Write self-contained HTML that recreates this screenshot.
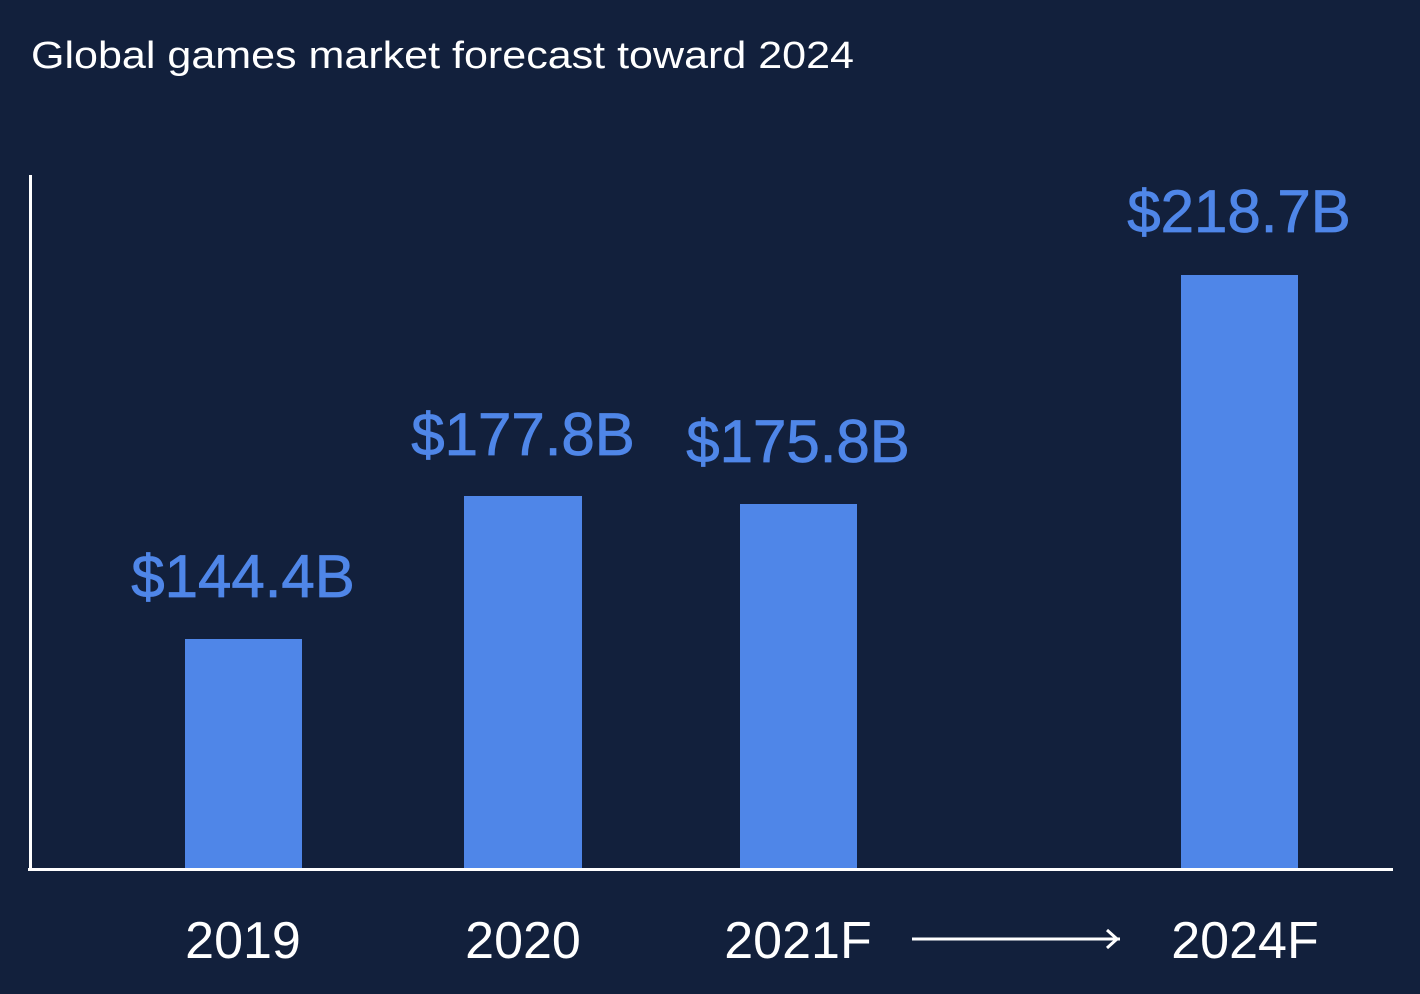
<!DOCTYPE html>
<html><head><style>
html,body{margin:0;padding:0;background:#12203c;}
svg{display:block;}
text{font-family:"Liberation Sans",sans-serif;}
</style></head><body>
<svg width="1420" height="994" viewBox="0 0 1420 994">
<rect width="1420" height="994" fill="#12203c"/>
<text x="31" y="68" fill="#fff" font-size="38" textLength="823" lengthAdjust="spacingAndGlyphs">Global games market forecast toward 2024</text>
<line x1="30.5" y1="175" x2="30.5" y2="870" stroke="#fff" stroke-width="3"/>
<line x1="28" y1="869.5" x2="1393" y2="869.5" stroke="#fff" stroke-width="3"/>
<g fill="#4f86e8">
<rect x="185" y="639" width="117" height="229"/>
<rect x="464" y="496" width="118" height="372"/>
<rect x="740" y="504" width="117" height="364"/>
<rect x="1181" y="275" width="117" height="593"/>
</g>
<g fill="#4f86e8" font-size="60" text-anchor="middle" stroke="#4f86e8" stroke-width="0.8">
<text x="243" y="597">$144.4B</text>
<text x="523" y="455">$177.8B</text>
<text x="798" y="462">$175.8B</text>
<text x="1239" y="232">$218.7B</text>
</g>
<g fill="#fff" font-size="52" text-anchor="middle">
<text x="243" y="958">2019</text>
<text x="523" y="958">2020</text>
<text x="798" y="958">2021F</text>
<text x="1245" y="958">2024F</text>
</g>
<line x1="912" y1="939" x2="1120" y2="939" stroke="#fff" stroke-width="3"/>
<polyline points="1107,930 1117,939 1107,948" fill="none" stroke="#fff" stroke-width="3"/>
</svg>
</body></html>
